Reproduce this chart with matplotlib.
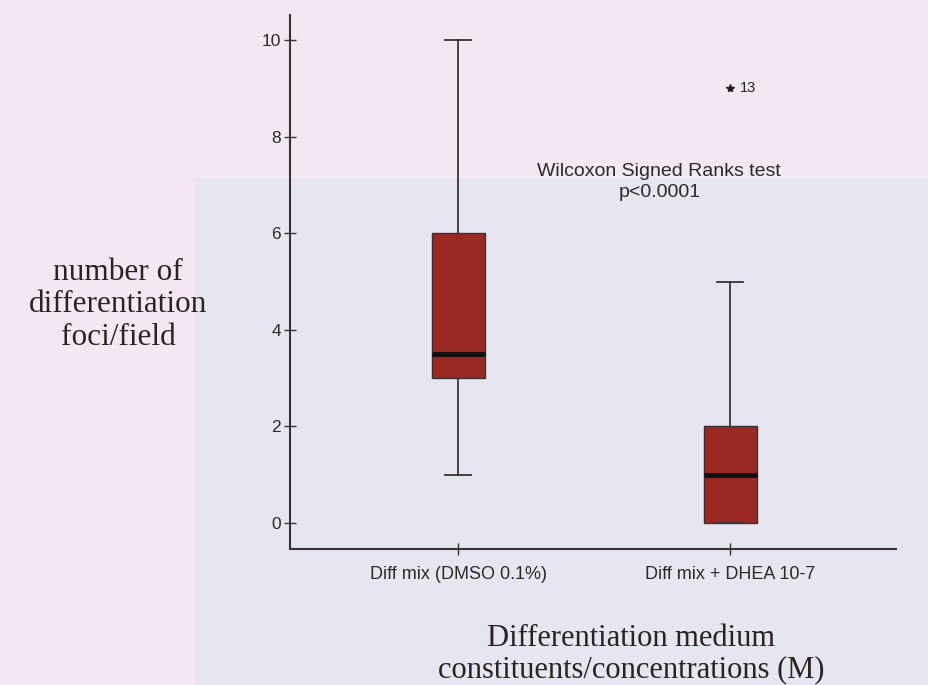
import matplotlib
matplotlib.use("Agg")
import matplotlib.pyplot as plt
from matplotlib.patches import Rectangle

# Summary statistics of differentiation foci per field
groups = ["Diff mix (DMSO 0.1%)", "Diff mix + DHEA 10-7"]
whisker_low = [1, 0]
quartile_1 = [3, 0]
medians = [3.5, 1]
quartile_3 = [6, 2]
whisker_high = [10, 5]
outliers = [[], [9]]
outlier_labels = [[], ["13"]]
y_ticks = [0, 2, 4, 6, 8, 10]

box_color = "#9a2923"
line_color = "#3a3236"

fig = plt.figure(figsize=(9.29, 6.85), dpi=100)
fig.patch.set_facecolor("#f2e7f2")
# shaded sheet region behind the plot
fig.patches.append(Rectangle((195 / 929, 0), 1 - 195 / 929, 1 - 178 / 685,
                             transform=fig.transFigure, facecolor="#e7e5ef",
                             edgecolor="none", zorder=-10))

ax = fig.add_axes([290 / 929, 1 - 549 / 685, 606 / 929, 534 / 685])
ax.set_facecolor("none")
ax.set_zorder(1)

stats = []
for i, name in enumerate(groups):
    stats.append(dict(label=name, whislo=whisker_low[i], q1=quartile_1[i],
                      med=medians[i], q3=quartile_3[i], whishi=whisker_high[i],
                      fliers=outliers[i]))

positions = [1, 2]
ax.bxp(stats, positions=positions, widths=0.195, patch_artist=True,
       showfliers=True, capwidths=0.095,
       boxprops=dict(facecolor=box_color, edgecolor=line_color, linewidth=1.0),
       medianprops=dict(color="#111111", linewidth=3.5),
       whiskerprops=dict(color=line_color, linewidth=1.3),
       capprops=dict(color=line_color, linewidth=1.3),
       flierprops=dict(marker="*", markersize=6, markerfacecolor="#222222",
                       markeredgecolor="#222222", linestyle="none"))

for pos, vals, labs in zip(positions, outliers, outlier_labels):
    for v, lab in zip(vals, labs):
        ax.text(pos + 0.035, v, lab, fontsize=10.5, family="Liberation Sans",
                color="#222222", va="center", ha="left")

ax.set_xlim(0.382, 2.61)
ax.set_ylim(-0.54, 10.52)
ax.set_xticks(positions)
ax.set_xticklabels(groups, fontsize=13, family="Liberation Sans", color="#2a2a2a")
ax.set_yticks(y_ticks)
ax.set_yticklabels([str(t) for t in y_ticks], fontsize=12.5,
                   family="Liberation Sans", color="#2a2a2a")
ax.tick_params(axis="y", direction="inout", length=9, width=1.0,
               color=line_color, pad=2)
ax.tick_params(axis="x", direction="inout", length=9, width=1.0,
               color=line_color, pad=8)

for side in ("top", "right"):
    ax.spines[side].set_visible(False)
for side in ("left", "bottom"):
    ax.spines[side].set_color(line_color)
    ax.spines[side].set_linewidth(1.5)

ax.text(1.74, 7.06, "Wilcoxon Signed Ranks test\np<0.0001", ha="center",
        va="center", fontsize=14, family="Liberation Sans", color="#2a2a2a",
        linespacing=1.3)

fig.text(118 / 929, 1 - 305 / 685, "number of\ndifferentiation\nfoci/field",
         ha="center", va="center", fontsize=22.5, family="Liberation Serif",
         color="#2a2326", linespacing=1.15)
fig.text(631 / 929, 1 - 654 / 685,
         "Differentiation medium\nconstituents/concentrations (M)",
         ha="center", va="center", fontsize=22, family="Liberation Serif",
         color="#2a2326", linespacing=1.12)

fig.savefig("out.png", dpi=100, facecolor=fig.get_facecolor())
